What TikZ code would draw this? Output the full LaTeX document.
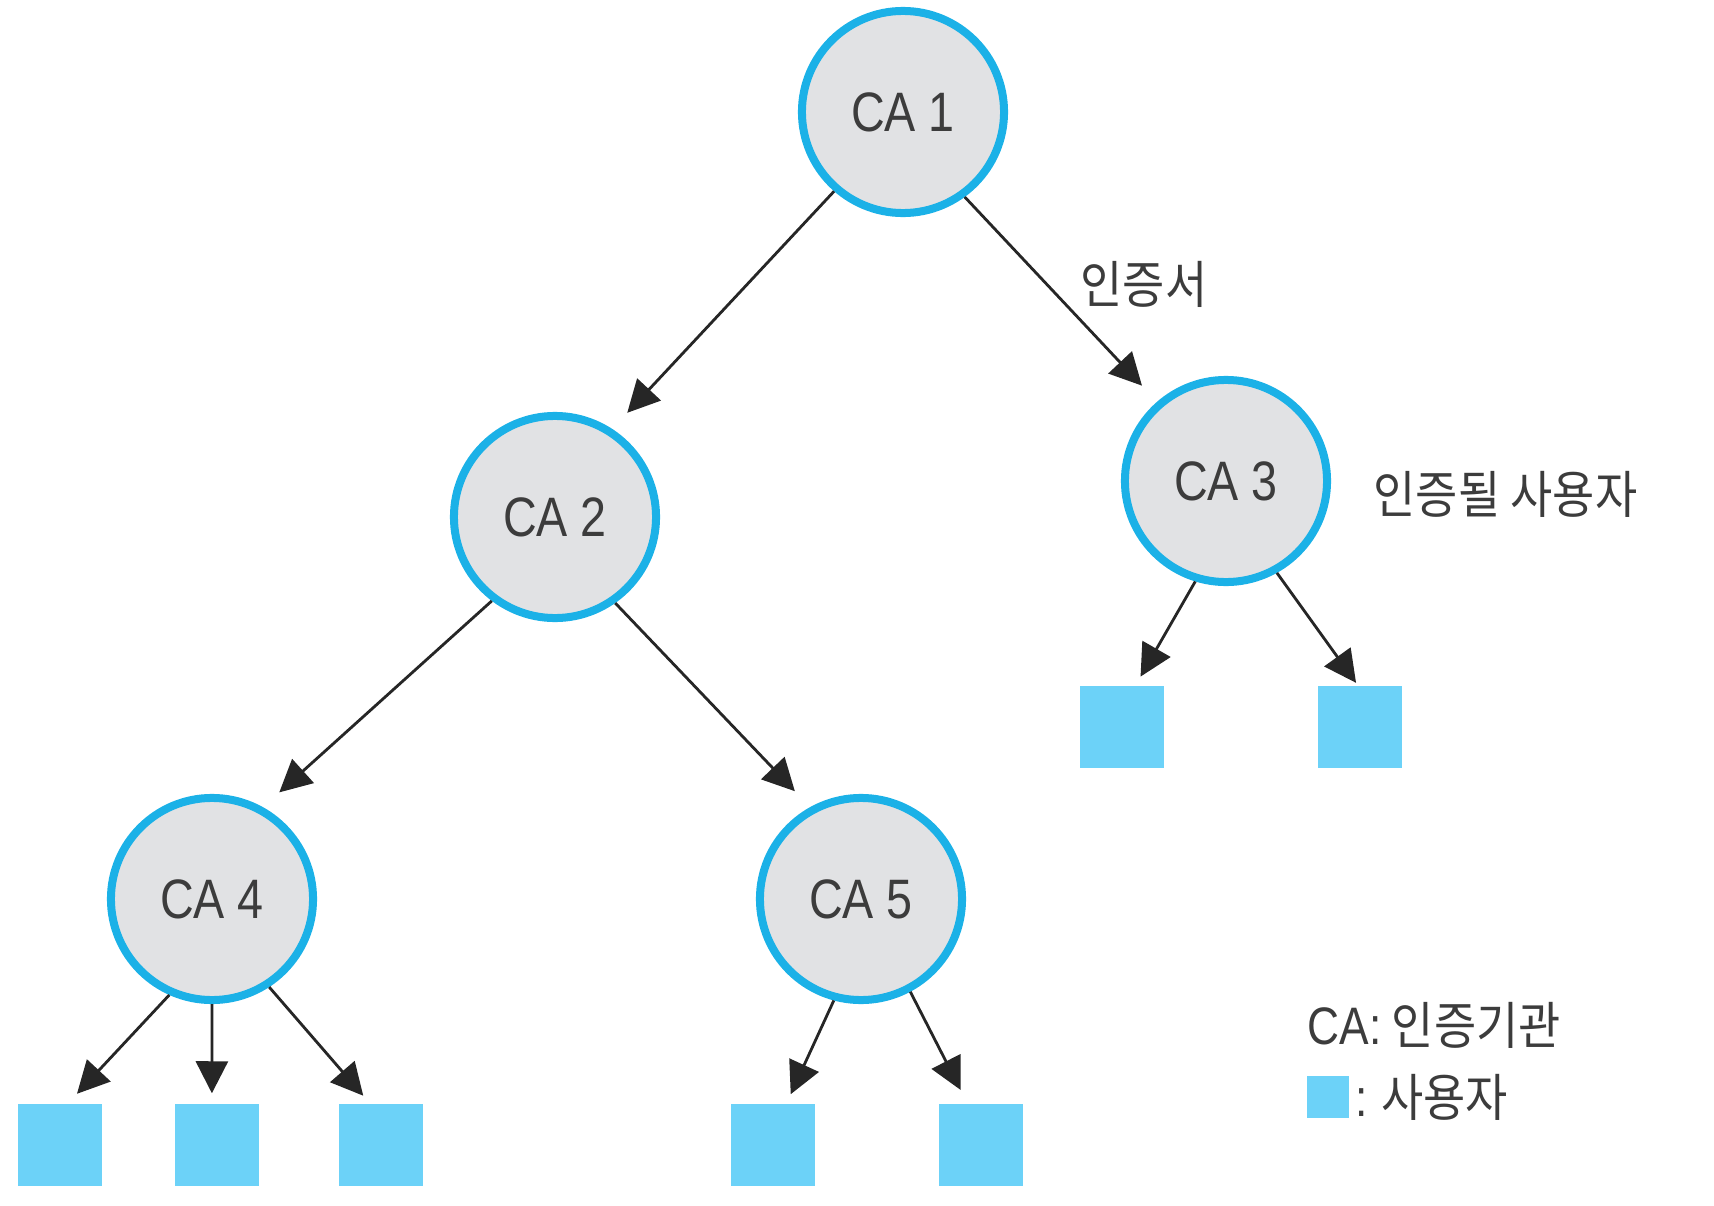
\documentclass[tikz,border=0pt]{standalone}
\usepackage{fontspec}
\setmainfont{Liberation Sans}[FakeStretch=0.84]
\newfontfamily\kofont{Noto Sans CJK KR}[FakeStretch=0.9]
\usetikzlibrary{arrows.meta,positioning}
\definecolor{caedge}{RGB}{27,177,231}
\definecolor{cafill}{RGB}{225,226,228}
\definecolor{userblue}{RGB}{108,210,248}
\definecolor{txtgray}{RGB}{60,60,60}
\begin{document}
\begin{tikzpicture}[x=0.01cm,y=-0.01cm,
            ca/.style={circle,draw=caedge,fill=cafill,line width=0.08cm,minimum size=2.02cm,
              inner sep=0pt,text=txtgray,font=\fontsize{15.8}{18}\selectfont},
            user/.style={rectangle,fill=userblue,minimum width=0.84cm,minimum height=0.82cm,inner sep=0pt},
            kotext/.style={inner sep=0pt,text=txtgray,font=\kofont\fontsize{14.5}{17}\selectfont},
            link/.style={-{Triangle[length=0.32cm,width=0.32cm]},line width=0.8pt,draw=black!85,shorten >=0.22cm},
            tolink/.style={link,shorten >=0.1cm}]
              \useasboundingbox (0,0) rectangle (1714,1206);
              \node[ca] (ca1) at (903,112) {CA 1};
              \node[ca] (ca2) at (555,517) {CA 2};
              \node[ca] (ca3) at (1226,481) {CA 3};
              \node[ca] (ca4) at (212,899) {CA 4};
              \node[ca] (ca5) at (861,899) {CA 5};
              \node[user] (u31) at (1122,727) {};
              \node[user] (u32) at (1360,727) {};
              \node[user] (u41) at (60,1145) {};
              \node[user] (u42) at (217,1145) {};
              \node[user] (u43) at (381,1145) {};
              \node[user] (u51) at (773,1145) {};
              \node[user] (u52) at (981,1145) {};
              \draw[link] (ca1.229) -- (ca2.57);
              \draw[link] (ca1.306) -- (ca3.131);
              \draw[link] (ca2.233) -- (ca4.61);
              \draw[link] (ca2.305) -- (ca5.119);
              \draw[tolink] (ca3.253) -- (u31.72);
              \draw[tolink,shorten >=0.03cm] (ca3.299) -- (u32.93);
              \draw[tolink,shorten >=0.13cm] (ca4.246) -- (u41.79);
              \draw[tolink] (ca4.270) -- (u42.97);
              \draw[tolink] (ca4.303) -- (u43.105);
              \draw[tolink] (ca5.255) -- (u51.72);
              \draw[tolink,shorten >=0.15cm] (ca5.298) -- (u52.108);
              \node[kotext] (cert) at (1144,284) {인증서};
              \node[kotext,anchor=west] (target) at (1373,494) {인증될 사용자};
              \node[kotext,anchor=west] (catext) at (1307,1025) {{\rmfamily\fontsize{15}{17}\selectfont CA:} 인증기관};
              \node[user,minimum width=0.42cm,minimum height=0.41cm] (key) at (1328,1097) {};
              \node[kotext,right=0.05cm of key] (keytext) {{\rmfamily\fontsize{15}{17}\selectfont :} 사용자};
        \end{tikzpicture}
\end{document}
